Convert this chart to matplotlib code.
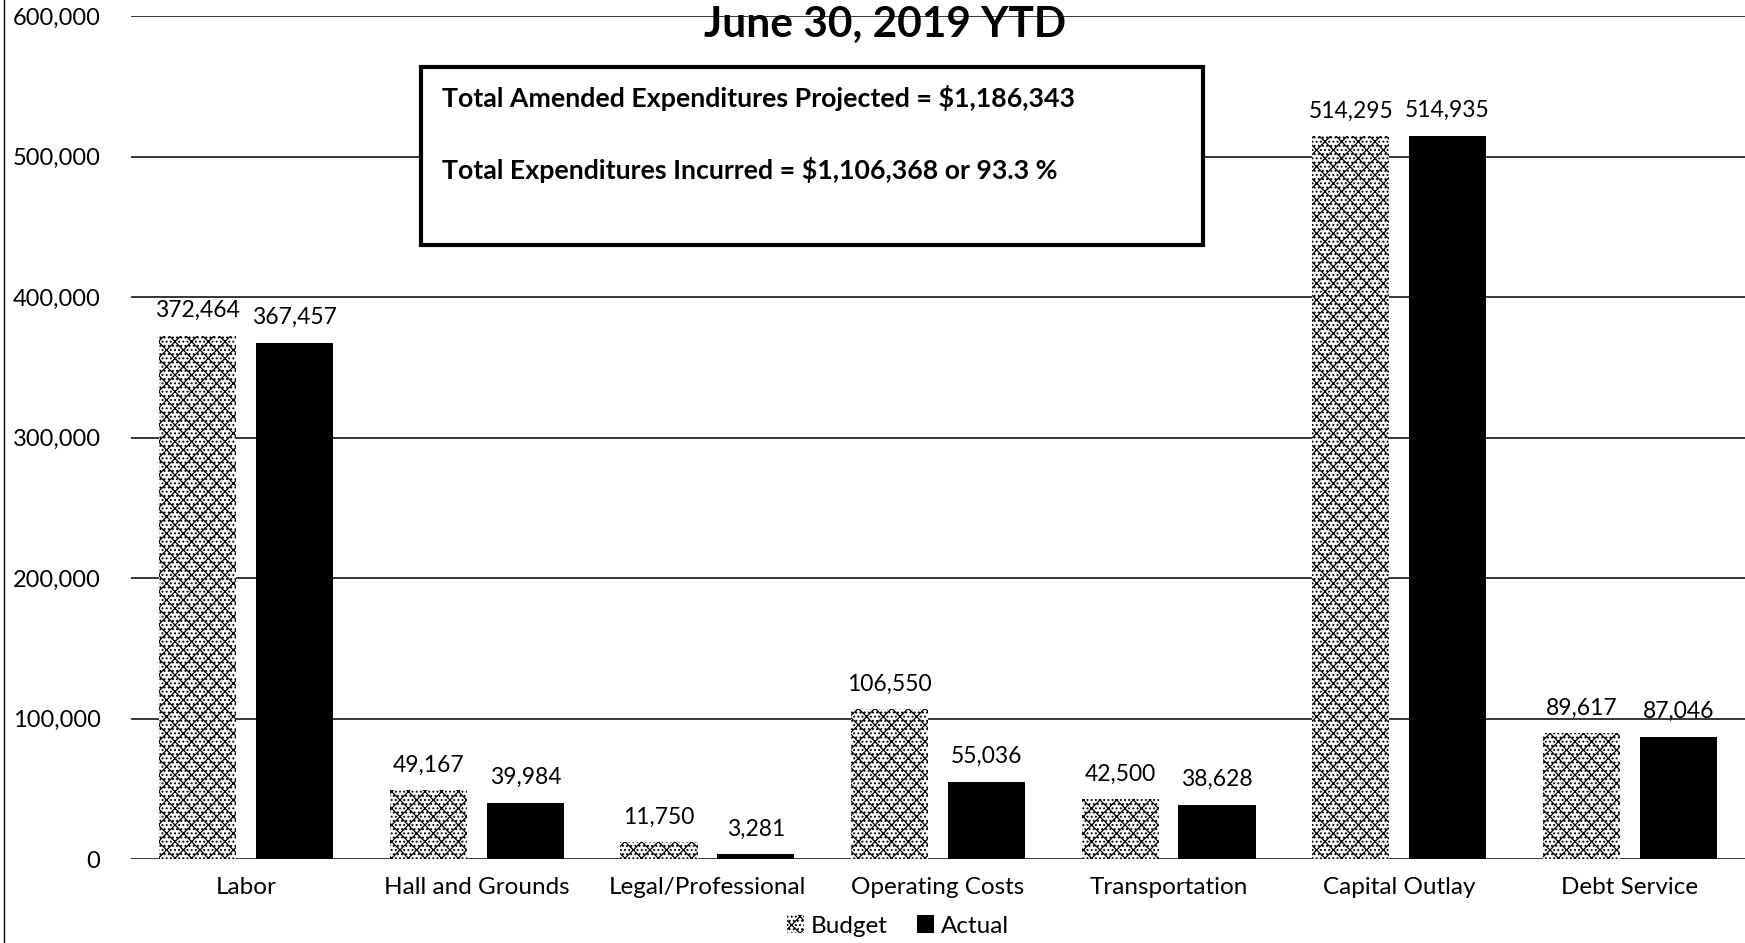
import matplotlib; matplotlib.use("Agg")
import matplotlib.pyplot as plt
import numpy as np
from matplotlib.patches import Rectangle, Patch
from matplotlib.lines import Line2D

categories = ["Labor", "Hall and Grounds", "Legal/Professional", "Operating Costs",
              "Transportation", "Capital Outlay", "Debt Service"]
budget = [372464, 49167, 11750, 106550, 42500, 514295, 89617]
actual = [367457, 39984, 3281, 55036, 38628, 514935, 87046]
yticks = [0, 100000, 200000, 300000, 400000, 500000, 600000]
title = "June 30, 2019 YTD"
box_lines = ["Total Amended Expenditures Projected = $1,186,343",
             "Total Expenditures Incurred = $1,106,368 or 93.3 %"]

plt.rcParams["font.family"] = ["Lato", "DejaVu Sans"]
plt.rcParams["hatch.linewidth"] = 0.9

W, H = 1745, 943
fig = plt.figure(figsize=(W / 100, H / 100), dpi=100)
ax = fig.add_axes([131 / W, 1 - 859 / H, 1 - 131 / W, (859 - 16) / H])

x = np.arange(len(categories))
bw = 0.335
off = 0.21
# budget bars: light stipple with black cross-hatch, edge drawn at zero width
b1 = ax.bar(x - off, budget, bw, facecolor="white", edgecolor="black", linewidth=0,
            hatch="xx....", zorder=3, label="Budget")
b2 = ax.bar(x + off, actual, bw, color="black", zorder=3, label="Actual")

for bars, vals in ((b1, budget), (b2, actual)):
    for r, v in zip(bars, vals):
        ax.annotate(f"{v:,}", (r.get_x() + r.get_width() / 2, v),
                    xytext=(0, 18), textcoords="offset points",
                    ha="center", va="center", fontsize=16.5)

ax.set_xlim(-0.5, len(categories) - 0.5)
ax.set_ylim(0, 600000)
ax.set_yticks(yticks)
ax.set_yticklabels([f"{v:,}" for v in yticks], fontsize=17)
ax.set_xticks(x)
ax.set_xticklabels(categories, fontsize=17.5)
ax.tick_params(axis="both", length=0)
ax.tick_params(axis="y", pad=22)
ax.tick_params(axis="x", pad=13)
ax.grid(axis="y", color="black", linewidth=1.1, zorder=1)
ax.set_axisbelow(True)
for s in ax.spines.values():
    s.set_visible(False)

# summary box over the upper gridlines
fig.add_artist(Rectangle((421 / W, 1 - 245 / H), (1203 - 421) / W, (245 - 67) / H,
                         transform=fig.transFigure, facecolor="white",
                         edgecolor="black", linewidth=3, zorder=5))
for i, line in enumerate(box_lines):
    fig.text(442 / W, 1 - (98 + 72 * i) / H, line, fontsize=19.3, fontweight="bold",
             ha="left", va="center", zorder=6)

fig.text(885 / W, 1 - 25 / H, title, fontsize=30.5, fontweight="bold",
         ha="center", va="center", zorder=6)

# left frame edge
fig.add_artist(Line2D([4 / W, 4 / W], [0, 1], color="black", linewidth=1,
                      transform=fig.transFigure))

handles = [Patch(facecolor="white", edgecolor="black", linewidth=0, hatch="xx...."),
           Patch(facecolor="black")]
fig.legend(handles, ["Budget", "Actual"], loc="center", ncol=2, frameon=False,
           bbox_to_anchor=(898 / W, 1 - 926 / H), fontsize=17.5,
           handlelength=0.7, handleheight=0.7, handletextpad=0.3, columnspacing=1.2)

fig.savefig("out.png", dpi=100)
